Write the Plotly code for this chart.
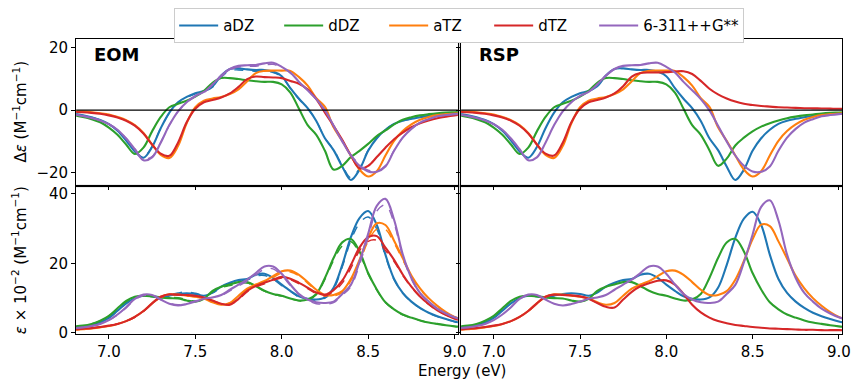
import plotly.graph_objects as go

# ---------------- data ----------------
energy = [6.80, 6.85, 6.90, 6.95, 7.00, 7.05, 7.10, 7.15, 7.20, 7.25,
          7.30, 7.35, 7.40, 7.45, 7.50, 7.55, 7.60, 7.65, 7.70, 7.75,
          7.80, 7.85, 7.90, 7.95, 8.00, 8.05, 8.10, 8.15, 8.20, 8.25,
          8.30, 8.35, 8.40, 8.45, 8.50, 8.55, 8.60, 8.65, 8.70, 8.75,
          8.80, 8.85, 8.90, 8.95, 9.00, 9.05]

basis_labels = ["aDZ", "dDZ", "aTZ", "dTZ", "6-311++G**"]
basis_colors = ["#1f77b4", "#2ca02c", "#ff7f0e", "#d62728", "#9467bd"]

x_tick_vals = [7.0, 7.5, 8.0, 8.5, 9.0]
x_tick_text = ["7.0", "7.5", "8.0", "8.5", "9.0"]
ecd_tick_vals = [-20, 0, 20]
abs_tick_vals = [0, 20, 40]

# EOM, ECD (Delta epsilon)
eom_ecd_adz = [-1.2, -1.7, -2.3, -3.2, -4.5, -6.6, -9.7, -13.2, -15.2, -11.8,
               -5.8, -0.8, 2.5, 4.2, 5.4, 6.1, 7.6, 11.0, 13.1, 13.3,
               13.0, 12.8, 12.8, 12.3, 10.8, 7.0, 3.6, 0.6, -3.5, -9.0,
               -12.8, -18.0, -22.3, -19.0, -13.0, -9.0, -6.3, -4.4, -3.4, -2.8,
               -2.3, -1.8, -1.5, -1.2, -1.0, -0.9]
eom_ecd_ddz = [-1.7, -2.2, -2.9, -3.9, -5.6, -7.9, -11.0, -14.0, -12.0, -6.8,
               -2.2, 0.9, 2.0, 3.0, 4.3, 6.1, 8.7, 10.2, 10.2, 9.9,
               9.5, 9.2, 9.0, 9.0, 8.2, 5.6, 0.4, -4.8, -7.9, -13.0,
               -19.0, -17.8, -15.0, -13.0, -10.8, -8.3, -6.5, -4.6, -3.1, -2.3,
               -1.7, -1.3, -1.0, -0.8, -0.7, -0.6]
eom_ecd_atz = [-0.4, -0.5, -0.7, -1.0, -1.4, -2.2, -3.2, -4.8, -7.3, -11.0,
               -14.3, -15.3, -11.5, -4.2, 0.9, 3.0, 3.7, 4.2, 5.1, 6.6,
               9.2, 11.8, 12.5, 12.6, 12.6, 12.5, 10.5, 7.8, 3.8, 1.0,
               -5.5, -9.8, -14.5, -19.0, -21.2, -19.5, -14.5, -9.8, -6.7, -4.6,
               -3.1, -2.2, -1.6, -1.3, -1.1, -0.9]
eom_ecd_dtz = [-0.6, -0.7, -0.9, -1.2, -1.7, -2.4, -3.4, -5.0, -7.5, -11.0,
               -13.9, -14.6, -10.4, -3.9, 0.4, 2.5, 3.2, 4.0, 5.3, 7.4,
               9.9, 10.7, 10.5, 10.4, 10.2, 9.3, 8.4, 6.6, 3.5, -0.8,
               -5.0, -9.5, -14.5, -18.6, -17.8, -15.0, -12.0, -9.3, -7.2, -5.5,
               -4.2, -3.3, -2.6, -2.1, -1.7, -1.4]
eom_ecd_pople = [-1.4, -1.9, -2.5, -3.3, -4.5, -6.3, -9.1, -12.5, -16.0, -15.1,
                 -10.4, -4.8, -0.4, 2.5, 4.5, 5.8, 8.2, 11.0, 13.1, 14.1,
                 14.3, 14.4, 14.9, 15.1, 13.8, 12.0, 9.0, 6.3, 3.5, -0.1,
                 -5.0, -10.0, -14.5, -17.8, -19.6, -19.7, -18.0, -13.0, -8.8, -6.0,
                 -4.0, -2.9, -2.0, -1.6, -1.3, -1.1]

# EOM, ECD dashed companions (only slightly different)
eom_ecd_adz_dash = [-1.2, -1.7, -2.3, -3.2, -4.5, -6.6, -9.6, -13.0, -14.9, -11.6,
                    -5.8, -0.9, 2.3, 4.0, 5.2, 5.9, 7.3, 10.5, 12.6, 12.8,
                    12.6, 12.4, 12.4, 12.0, 10.6, 6.9, 3.5, 0.5, -3.5, -8.9,
                    -12.6, -17.6, -21.6, -18.6, -12.8, -8.9, -6.2, -4.4, -3.4, -2.8,
                    -2.3, -1.8, -1.5, -1.2, -1.0, -0.9]
eom_ecd_pople_dash = [-1.4, -1.9, -2.5, -3.3, -4.5, -6.3, -9.0, -12.3, -15.6, -14.8,
                      -10.3, -4.8, -0.5, 2.3, 4.3, 5.6, 7.9, 10.6, 12.7, 13.7,
                      13.9, 14.0, 14.4, 14.6, 13.5, 11.8, 8.9, 6.2, 3.5, -0.1,
                      -4.9, -9.8, -14.2, -17.4, -19.2, -19.4, -17.7, -12.9, -8.8, -6.0,
                      -4.0, -2.9, -2.0, -1.6, -1.3, -1.1]

# RSP, ECD (Delta epsilon)
rsp_ecd_adz = [-1.2, -1.7, -2.3, -3.2, -4.5, -6.6, -9.7, -13.2, -15.2, -11.8,
               -5.8, -0.8, 2.5, 4.2, 5.4, 6.1, 7.6, 11.0, 13.1, 13.3,
               13.0, 12.8, 12.8, 12.3, 10.8, 7.0, 3.6, 0.6, -3.5, -9.0,
               -12.8, -18.0, -22.3, -19.0, -13.0, -9.0, -6.3, -4.4, -3.4, -2.8,
               -2.3, -1.8, -1.5, -1.2, -1.0, -0.9]
rsp_ecd_ddz = [-1.7, -2.2, -2.9, -3.9, -5.6, -7.9, -11.0, -14.0, -12.0, -6.8,
               -2.2, 0.9, 2.0, 3.0, 4.3, 6.1, 8.7, 10.2, 10.2, 9.9,
               9.5, 9.2, 9.0, 9.0, 8.2, 5.6, 0.4, -4.8, -7.9, -12.8,
               -17.8, -15.5, -11.3, -8.8, -6.8, -5.3, -4.2, -3.3, -2.6, -2.1,
               -1.7, -1.4, -1.1, -0.9, -0.8, -0.7]
rsp_ecd_atz = [-0.4, -0.5, -0.7, -1.0, -1.4, -2.2, -3.2, -4.8, -7.3, -11.0,
               -14.3, -15.3, -11.5, -4.2, 0.9, 3.0, 3.7, 4.2, 5.1, 6.6,
               9.2, 11.8, 12.5, 12.6, 12.6, 12.5, 10.5, 7.8, 3.8, 1.0,
               -5.5, -9.8, -14.5, -19.0, -21.2, -19.5, -14.5, -9.8, -6.7, -4.6,
               -3.1, -2.2, -1.6, -1.3, -1.1, -0.9]
rsp_ecd_dtz = [-0.6, -0.7, -0.9, -1.2, -1.7, -2.4, -3.4, -5.0, -7.5, -11.0,
               -13.9, -14.5, -10.4, -3.9, 0.4, 2.5, 3.2, 4.0, 5.3, 7.6,
               10.7, 11.8, 12.0, 12.0, 12.1, 12.3, 12.4, 11.5, 9.3, 6.8,
               5.0, 3.7, 2.7, 2.0, 1.6, 1.3, 1.1, 0.9, 0.8, 0.7,
               0.6, 0.55, 0.5, 0.45, 0.4, 0.4]
rsp_ecd_pople = [-1.4, -1.9, -2.5, -3.3, -4.5, -6.3, -9.1, -12.5, -16.0, -15.1,
                 -10.4, -4.8, -0.4, 2.5, 4.5, 5.8, 8.2, 11.0, 13.1, 14.1,
                 14.3, 14.4, 14.9, 15.1, 13.8, 12.0, 9.0, 6.3, 3.5, -0.1,
                 -5.0, -10.0, -14.5, -17.8, -19.6, -19.7, -18.0, -13.0, -8.8, -6.0,
                 -4.0, -2.9, -2.0, -1.6, -1.3, -1.1]

# EOM, absorption (epsilon x 10^-2), solid
eom_abs_adz = [1.6, 1.8, 2.2, 3.0, 4.3, 6.4, 8.5, 10.0, 10.7, 10.5,
               10.2, 10.7, 11.2, 11.4, 11.2, 10.7, 11.6, 13.3, 14.4, 15.2,
               15.5, 16.7, 17.0, 15.8, 13.9, 12.1, 10.5, 9.8, 9.6, 10.2,
               13.0, 19.5, 27.5, 33.0, 35.0, 31.0, 22.5, 15.5, 11.5, 9.0,
               7.2, 5.8, 4.8, 4.0, 3.3, 2.8]
eom_abs_ddz = [1.9, 2.1, 2.6, 3.5, 4.9, 7.1, 9.2, 10.4, 10.7, 10.5,
               10.2, 10.0, 9.9, 9.3, 9.0, 9.8, 12.1, 13.3, 13.9, 14.6,
               14.6, 13.5, 12.1, 11.2, 10.7, 9.9, 9.3, 9.6, 11.2, 15.8,
               21.5, 26.0, 27.0, 23.4, 17.2, 12.5, 8.8, 6.8, 5.3, 4.4,
               3.6, 3.0, 2.6, 2.2, 1.9, 1.7]
eom_abs_atz = [0.9, 1.1, 1.3, 1.6, 2.0, 2.6, 3.4, 4.6, 6.3, 8.5,
               10.4, 11.1, 11.0, 10.7, 10.4, 9.9, 8.8, 8.1, 8.6, 10.7,
               12.7, 13.9, 14.9, 16.3, 17.7, 17.9, 16.7, 14.6, 12.4, 10.9,
               10.9, 12.0, 15.5, 21.0, 27.3, 31.5, 31.0, 26.5, 21.5, 16.5,
               12.8, 10.0, 7.8, 6.0, 4.6, 3.8]
eom_abs_dtz = [1.0, 1.2, 1.4, 1.7, 2.1, 2.6, 3.4, 4.6, 6.3, 8.5,
               10.4, 11.1, 11.0, 10.9, 10.7, 10.2, 9.3, 8.4, 8.1, 9.8,
               12.1, 13.5, 14.4, 15.3, 16.1, 15.6, 14.4, 13.0, 11.6, 11.0,
               12.3, 15.0, 19.5, 24.5, 27.5, 27.8, 24.5, 21.0, 16.8, 13.3,
               10.5, 8.3, 6.5, 5.2, 4.1, 3.4]
eom_abs_pople = [1.4, 1.6, 2.0, 2.6, 3.7, 5.3, 7.4, 9.8, 11.0, 10.9,
                 9.6, 8.4, 7.9, 8.3, 9.0, 9.8, 10.2, 10.9, 12.4, 13.9,
                 15.3, 17.2, 19.1, 19.1, 17.0, 13.9, 11.2, 9.6, 8.8, 8.6,
                 9.0, 11.2, 13.8, 20.5, 28.5, 36.5, 38.5, 32.5, 22.6, 15.8,
                 11.5, 9.0, 7.0, 5.6, 4.5, 3.7]

# EOM, absorption, dashed companions
eom_abs_adz_dash = [1.6, 1.8, 2.2, 3.0, 4.3, 6.4, 8.5, 10.0, 10.7, 10.6,
                    10.4, 11.0, 11.5, 11.8, 11.4, 10.8, 11.5, 13.0, 14.1, 14.9,
                    15.2, 16.3, 16.5, 15.4, 13.6, 11.9, 10.3, 9.6, 9.4, 10.0,
                    12.6, 18.9, 26.5, 31.5, 33.3, 29.8, 22.0, 15.3, 11.4, 8.9,
                    7.1, 5.7, 4.7, 3.9, 3.2, 2.7]
eom_abs_ddz_dash = [1.9, 2.1, 2.6, 3.5, 4.9, 7.0, 9.0, 10.2, 10.6, 10.5,
                    10.3, 10.2, 10.1, 9.6, 9.2, 9.8, 11.8, 13.0, 13.6, 14.3,
                    14.3, 13.3, 12.0, 11.1, 10.6, 9.8, 9.2, 9.5, 11.0, 15.4,
                    20.8, 25.0, 26.2, 22.8, 16.9, 12.3, 8.7, 6.7, 5.2, 4.3,
                    3.6, 3.0, 2.6, 2.2, 1.9, 1.7]
eom_abs_atz_dash = [0.9, 1.1, 1.3, 1.6, 2.0, 2.6, 3.4, 4.5, 6.2, 8.4,
                    10.2, 10.9, 10.9, 10.7, 10.4, 9.9, 8.9, 8.2, 8.6, 10.5,
                    12.4, 13.6, 14.6, 15.9, 17.2, 17.5, 16.4, 14.3, 12.1, 10.6,
                    10.6, 11.6, 15.0, 20.2, 26.3, 29.8, 29.7, 25.8, 21.0, 16.2,
                    12.6, 9.9, 7.7, 5.9, 4.6, 3.8]
eom_abs_dtz_dash = [1.0, 1.2, 1.4, 1.7, 2.1, 2.6, 3.4, 4.5, 6.2, 8.4,
                    10.2, 10.9, 10.9, 10.8, 10.6, 10.1, 9.3, 8.5, 8.2, 9.6,
                    11.8, 13.2, 14.1, 15.0, 15.8, 15.3, 14.1, 12.7, 11.3, 10.7,
                    11.9, 14.3, 18.6, 23.6, 26.3, 26.6, 23.7, 20.5, 16.5, 13.1,
                    10.4, 8.2, 6.4, 5.1, 4.1, 3.4]
eom_abs_pople_dash = [1.4, 1.6, 2.0, 2.6, 3.6, 5.2, 7.2, 9.5, 10.7, 10.7,
                      9.6, 8.6, 8.1, 8.5, 9.2, 9.9, 10.2, 10.7, 12.1, 13.5,
                      14.8, 16.6, 18.3, 18.4, 16.5, 13.6, 11.0, 9.4, 8.4, 8.3,
                      8.7, 10.8, 13.3, 19.6, 27.5, 35.0, 36.8, 31.5, 22.0, 15.5,
                      11.3, 8.9, 6.9, 5.5, 4.5, 3.7]

# RSP, absorption (epsilon x 10^-2)
rsp_abs_adz = [1.6, 1.8, 2.2, 3.0, 4.3, 6.4, 8.5, 10.0, 10.7, 10.5,
               10.2, 10.7, 11.2, 11.4, 11.2, 10.7, 11.6, 13.3, 14.4, 15.2,
               15.5, 16.7, 17.0, 15.8, 13.9, 12.1, 10.5, 9.8, 9.6, 10.2,
               13.0, 19.5, 27.3, 32.8, 34.8, 31.0, 22.5, 15.5, 11.5, 9.0,
               7.2, 5.8, 4.8, 4.0, 3.3, 2.8]
rsp_abs_ddz = [1.9, 2.1, 2.6, 3.5, 4.9, 7.1, 9.2, 10.4, 10.7, 10.5,
               10.2, 10.0, 9.9, 9.3, 9.0, 9.8, 12.1, 13.3, 13.9, 14.6,
               14.6, 13.5, 12.1, 11.2, 10.7, 9.9, 9.3, 9.6, 11.2, 15.8,
               21.5, 26.0, 27.0, 23.4, 17.2, 12.5, 8.8, 6.8, 5.3, 4.4,
               3.6, 3.0, 2.6, 2.2, 1.9, 1.7]
rsp_abs_atz = [0.9, 1.1, 1.3, 1.6, 2.0, 2.6, 3.4, 4.6, 6.3, 8.5,
               10.4, 11.1, 11.0, 10.7, 10.4, 9.9, 8.8, 8.1, 8.6, 10.7,
               12.7, 13.9, 14.9, 16.3, 17.7, 17.9, 16.7, 14.6, 12.4, 10.9,
               10.9, 12.0, 15.3, 20.7, 26.9, 31.1, 30.7, 26.3, 21.4, 16.4,
               12.8, 10.0, 7.8, 6.0, 4.6, 3.8]
rsp_abs_dtz = [1.0, 1.2, 1.4, 1.7, 2.1, 2.6, 3.4, 4.6, 6.3, 8.5,
               10.4, 11.0, 10.9, 10.8, 10.5, 9.8, 8.6, 7.5, 7.3, 9.6,
               11.8, 13.4, 14.3, 15.0, 15.1, 13.9, 11.2, 8.1, 5.9, 4.4,
               3.4, 2.8, 2.3, 2.0, 1.7, 1.5, 1.3, 1.2, 1.1, 1.0,
               0.9, 0.9, 0.8, 0.8, 0.8, 0.7]
rsp_abs_pople = [1.4, 1.6, 2.0, 2.6, 3.7, 5.3, 7.4, 9.8, 11.0, 10.9,
                 9.6, 8.4, 7.9, 8.3, 9.0, 9.8, 10.2, 10.9, 12.4, 13.9,
                 15.3, 17.2, 19.1, 19.1, 17.0, 13.9, 11.2, 9.6, 8.8, 8.6,
                 9.0, 11.2, 13.8, 20.3, 28.2, 36.2, 38.1, 32.3, 22.5, 15.8,
                 11.5, 9.0, 7.0, 5.6, 4.5, 3.7]

eom_ecd = [eom_ecd_adz, eom_ecd_ddz, eom_ecd_atz, eom_ecd_dtz, eom_ecd_pople]
eom_ecd_dash = [eom_ecd_adz_dash, None, None, None, eom_ecd_pople_dash]
rsp_ecd = [rsp_ecd_adz, rsp_ecd_ddz, rsp_ecd_atz, rsp_ecd_dtz, rsp_ecd_pople]
eom_abs = [eom_abs_adz, eom_abs_ddz, eom_abs_atz, eom_abs_dtz, eom_abs_pople]
eom_abs_dash = [eom_abs_adz_dash, eom_abs_ddz_dash, eom_abs_atz_dash,
                eom_abs_dtz_dash, eom_abs_pople_dash]
rsp_abs = [rsp_abs_adz, rsp_abs_ddz, rsp_abs_atz, rsp_abs_dtz, rsp_abs_pople]

# ---------------- layout geometry (pixels of an 861x385 page) ----------------
W, H = 861, 385
FONT = "DejaVu Sans"


def fx(p):
    return p / W


def fy(p):
    return 1 - p / H


left_dom = [fx(77), fx(462.7)]
right_dom = [fx(466), fx(851)]
top_dom = [fy(188), fy(37.7)]
bot_dom = [fy(341.3), fy(190.7)]

fig = go.Figure()

panels = [
    ("x", "y", eom_ecd, eom_ecd_dash),
    ("x2", "y2", rsp_ecd, None),
    ("x3", "y3", eom_abs, eom_abs_dash),
    ("x4", "y4", rsp_abs, None),
]

for pi, (xa, ya, solid_sets, dash_sets) in enumerate(panels):
    for i, label in enumerate(basis_labels):
        fig.add_trace(go.Scatter(
            x=energy, y=solid_sets[i], xaxis=xa, yaxis=ya, mode="lines",
            name=label, legendgroup=label, showlegend=(pi == 0),
            legendwidth=(95 if label == "6-311++G**" else 51),
            line=dict(color=basis_colors[i], width=2.1, shape="spline", smoothing=1.0),
            hoverinfo="skip"))
        if dash_sets is not None and dash_sets[i] is not None:
            fig.add_trace(go.Scatter(
                x=energy, y=dash_sets[i], xaxis=xa, yaxis=ya, mode="lines",
                name=label, legendgroup=label, showlegend=False,
                line=dict(color=basis_colors[i], width=1.4, dash="dash",
                          shape="spline", smoothing=1.0),
                hoverinfo="skip"))

axis_common = dict(
    showline=True, linecolor="black", linewidth=1.1, mirror=True,
    ticks="outside", ticklen=4, tickwidth=1, tickcolor="black",
    showgrid=False, zeroline=False,
    tickfont=dict(family=FONT, size=15, color="black"),
)
xrange = [6.811, 9.019]

fig.update_layout(
    xaxis=dict(domain=left_dom, anchor="y", range=xrange, tickvals=x_tick_vals,
               ticktext=x_tick_text, showticklabels=False, **axis_common),
    xaxis2=dict(domain=right_dom, anchor="y2", range=xrange, tickvals=x_tick_vals,
                ticktext=x_tick_text, showticklabels=False, **axis_common),
    xaxis3=dict(domain=left_dom, anchor="y3", range=xrange, tickvals=x_tick_vals,
                ticktext=x_tick_text, **axis_common),
    xaxis4=dict(domain=right_dom, anchor="y4", range=xrange, tickvals=x_tick_vals,
                ticktext=x_tick_text, **axis_common),
    yaxis=dict(domain=top_dom, anchor="x", range=[-23.8, 22.8],
               tickvals=ecd_tick_vals, **axis_common),
    yaxis2=dict(domain=top_dom, anchor="x2", range=[-23.8, 22.8],
                tickvals=ecd_tick_vals, showticklabels=False, **axis_common),
    yaxis3=dict(domain=bot_dom, anchor="x3", range=[-0.17, 41.84],
                tickvals=abs_tick_vals, **axis_common),
    yaxis4=dict(domain=bot_dom, anchor="x4", range=[-0.17, 41.84],
                tickvals=abs_tick_vals, showticklabels=False, **axis_common),
)

shapes = [
    # light separators between the panels
    dict(type="rect", xref="paper", yref="paper", x0=fx(462.7), x1=fx(466),
         y0=fy(341.3), y1=fy(37.7), fillcolor="#d8d8d8", line=dict(width=0), layer="below"),
    dict(type="rect", xref="paper", yref="paper", x0=fx(77), x1=fx(851),
         y0=fy(190.7), y1=fy(188), fillcolor="#b8b8b8", line=dict(width=0), layer="below"),
    # zero lines in the ECD panels
    dict(type="line", xref="x domain", yref="y", x0=0, x1=1, y0=0, y1=0,
         line=dict(color="black", width=1.3), layer="above"),
    dict(type="line", xref="x2 domain", yref="y2", x0=0, x1=1, y0=0, y1=0,
         line=dict(color="black", width=1.3), layer="above"),
]

annotations = [
    dict(text="<b>EOM</b>", xref="paper", yref="paper", x=fx(93), y=fy(54),
         xanchor="left", yanchor="middle", showarrow=False,
         font=dict(family=FONT, size=18, color="black")),
    dict(text="<b>RSP</b>", xref="paper", yref="paper", x=fx(482), y=fy(54),
         xanchor="left", yanchor="middle", showarrow=False,
         font=dict(family=FONT, size=18, color="black")),
    dict(text="Energy (eV)", xref="paper", yref="paper", x=fx(466.7), y=fy(380),
         xanchor="center", yanchor="middle", showarrow=False,
         font=dict(family=FONT, size=15, color="black")),
    dict(text="Δ<i>ε</i> (M<sup>−1</sup>cm<sup>−1</sup>)", xref="paper", yref="paper",
         x=fx(20), y=fy(113), xanchor="center", yanchor="middle", textangle=-90,
         showarrow=False, font=dict(family=FONT, size=15, color="black")),
    dict(text="<i>ε</i> × 10<sup>−2</sup> (M<sup>−1</sup>cm<sup>−1</sup>)", xref="paper",
         yref="paper", x=fx(20), y=fy(266), xanchor="center", yanchor="middle",
         textangle=-90, showarrow=False, font=dict(family=FONT, size=15, color="black")),
]

fig.update_layout(
    width=W, height=H,
    margin=dict(l=0, r=0, t=0, b=0),
    paper_bgcolor="white", plot_bgcolor="white",
    font=dict(family=FONT, size=15, color="black"),
    shapes=shapes, annotations=annotations,
    legend=dict(orientation="h", x=fx(176), y=fy(6.5), xanchor="left", yanchor="top",
                bgcolor="white", bordercolor="#cccccc", borderwidth=1,
                font=dict(family=FONT, size=15, color="black"),
                itemwidth=39, entrywidthmode="pixels", tracegroupgap=0),
    showlegend=True,
)

fig.write_html("out.html")
